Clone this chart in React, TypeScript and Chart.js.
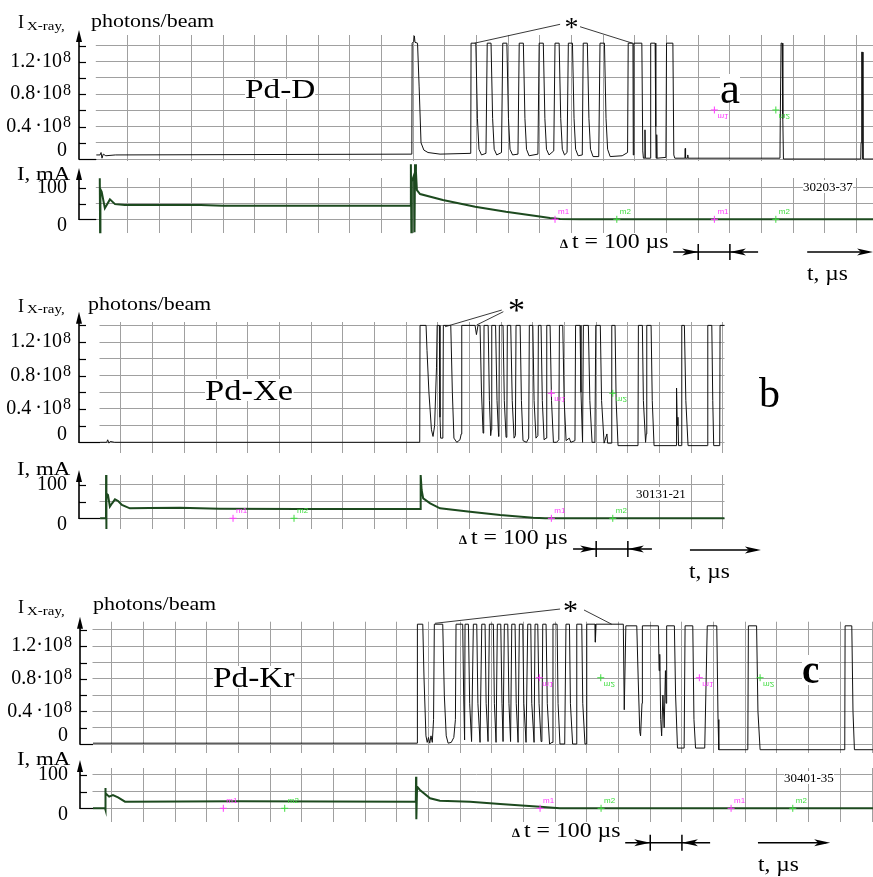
import React, { useEffect, useRef } from 'react';
import { Chart, registerables } from 'chart.js';

Chart.register(...registerables);

const SERIF = "'Liberation Serif', 'Times New Roman', Times, serif";
const SANS = "'Liberation Sans', Arial, sans-serif";
const PAGE_W = 873;
const PAGE_H = 877;
const GRID = '#a0a0a0';
const XRAY_COLOR = '#111111';
const CURRENT_COLOR = '#1d4a1f';
const M1_COLOR = '#ff3cff';
const M2_COLOR = '#3fdc3f';
const PX_PER_US = 0.3168;

// ---------- ticks ----------
const xrayTickValues = [0, 0.2, 0.4, 0.6, 0.8, 1.0, 1.2, 1.4]; // x10^8 photons/beam
const xrayTickLabels = ['0', '', '0.4\u2009·10', '', '0.8·10', '', '1.2·10', ''];
const xrayTickExponents = ['', '', '8', '', '8', '', '8', ''];
const currentTickValues = [0, 50, 100]; // mA
const currentTickLabels = ['0', '', '100'];
const timeGridStep = 100; // µs

// ---------- (a) Pd-D : time µs, X-ray x10^8 ----------
const pdD_xray = [
  [0, 0.05], [12, 0.05], [15, 0.08], [18, 0.01], [22, 0.06], [30, 0.04], [60, 0.05], [996, 0.06],
  [997, 1.43], [1002, 1.45], [1004, 1.52], [1006, 1.44], [1014, 1.43], [1019, 0.9], [1025, 0.2], [1034, 0.11], [1047, 0.08], [1085, 0.06], [1182, 0.07],
  [1183, 1.43], [1198, 1.43], [1203, 0.5], [1208, 0.12], [1216, 0.05], [1230, 0.07],
  [1234, 1.43], [1246, 1.43], [1251, 0.5], [1256, 0.12], [1264, 0.05], [1279, 0.08],
  [1283, 1.43], [1296, 1.43], [1301, 0.5], [1306, 0.12], [1314, 0.05], [1331, 0.06],
  [1335, 1.43], [1348, 1.43], [1353, 0.5], [1358, 0.12], [1366, 0.04], [1394, 0.06],
  [1398, 1.43], [1411, 1.43], [1416, 0.5], [1421, 0.12], [1429, 0.05], [1444, 0.1],
  [1448, 1.43], [1461, 1.43], [1466, 0.5], [1471, 0.12], [1478, 0.05], [1486, 0.08],
  [1490, 1.43], [1503, 1.43], [1508, 0.5], [1513, 0.12], [1521, 0.04], [1534, 0.05],
  [1537, 1.43], [1550, 1.43], [1555, 0.5], [1560, 0.12], [1568, 0.03], [1586, 0.03],
  [1590, 1.43], [1604, 1.43], [1609, 0.5], [1614, 0.12], [1622, 0.03], [1660, 0.04], [1677, 0.08],
  [1679, 1.43], [1694, 1.43], [1695, 0.05], [1697, 1.43], [1722, 1.43], [1725, 0.1], [1727, 0.01],
  [1731, 0.01], [1732, 0.36], [1733, 0.01], [1748, 0.01],
  [1750, 1.43], [1764, 1.43], [1766, 0.4], [1767, 0.01], [1769, 0.3], [1770, 0.01], [1798, 0.02],
  [1800, 1.43], [1820, 1.43], [1823, 0.05], [1826, 0.01], [1858, 0.01], [1859, 0.13], [1860, 0.01], [1866, 0.01], [1867, 0.05], [1868, 0.01], [2158, 0.01],
  [2159, 0.48], [2161, 0.48], [2161.5, 1.43], [2165, 1.43], [2167, 0.5], [2169, 0.0], [2413, 0.0],
  [2414, 0.2], [2416, 1.32], [2418, 1.32], [2420, 0.0], [2452, 0.0],
];
// (a) discharge current, mA
const pdD_current = [
  [11, 130], [12, -41], [13, 95], [17, 87], [27, 35], [43, 63], [59, 48], [90, 45], [330, 45], [400, 43], [990, 43],
  [992, 43], [993, 174], [994.5, -41], [996, 120], [1003, 140], [1004.5, -41], [1006, 174], [1009, 150], [1012, 92],
  [1022, 80], [1094, 61], [1196, 40], [1293, 24], [1394, 10], [1432, 4], [1464, 1], [1527, 0], [2452, 0],
];

// ---------- (b) Pd-Xe ----------
const pdXe_xray = [
  [34, 0.0], [55, 0.0], [58, 0.03], [62, -0.01], [66, 0.01], [80, 0.0], [1043, 0.0],
  [1044, 1.4], [1063, 1.4], [1066, 1.1], [1072, 0.6], [1080, 0.15], [1085, 0.07], [1090, 0.2], [1096, 0.9], [1098, 1.4], [1105, 1.4], [1107, 0.3], [1109, 0.05], [1116, 0.05],
  [1117.6, 1.4], [1141, 1.4], [1146, 0.6], [1151, 0.05], [1160, 0.0], [1170, 0.03], [1174, 0.1],
  [1175.7, 1.4], [1217.7, 1.4], [1222, 1.29], [1227, 1.4], [1233.4, 1.4], [1238, 0.6], [1243, 0.11], [1245, 0.2],
  [1246, 1.4], [1259, 1.4], [1263, 0.5], [1267, 0.08], [1269, 0.15],
  [1270.4, 1.4], [1282.4, 1.4], [1287, 0.5], [1292, 0.07], [1293, 0.12],
  [1294.4, 1.4], [1306, 1.4], [1310, 0.5], [1315.5, 0.06], [1318, 0.1],
  [1319.6, 1.4], [1330.3, 1.4], [1335, 0.5], [1340.8, 0.05], [1345, 0.08],
  [1347, 1.4], [1360, 1.4], [1364, 0.5], [1369, 0.02], [1380, 0.0], [1387, 0.05],
  [1389, 1.4], [1400, 1.4], [1404, 0.5], [1410, 0.05], [1416, 0.08],
  [1417.5, 1.4], [1426, 1.4], [1430, 0.5], [1435.5, 0.03], [1442, 0.05],
  [1444, 1.4], [1454.5, 1.4], [1459, 0.5], [1465, 0.0], [1475, 0.0], [1482, 0.03],
  [1484, 1.4], [1494.5, 1.4], [1499, 0.5], [1505, 0.02], [1515, 0.05], [1520, 0.0], [1533, 0.02],
  [1535, 1.4], [1549, 1.4], [1552, 0.6], [1557, 0.0],
  [1559.6, 1.4], [1575.3, 1.4], [1580, 0.5], [1587, 0.0], [1596, 0.0],
  [1598.7, 1.4], [1613, 1.4], [1617, 0.5], [1625, -0.01], [1634, 0.1], [1636, -0.01], [1648, -0.01],
  [1649.2, 1.4], [1659.6, 1.4], [1663, 0.5], [1669, -0.04], [1732, -0.04],
  [1733.2, 1.4], [1745.8, 1.4], [1749, 0.5], [1755.9, 0.0], [1758, 0.1],
  [1759.7, 1.4], [1773.3, 1.4], [1777, 0.5], [1782.7, -0.04], [1852, -0.04],
  [1853, 0.35], [1854.4, 0.65], [1856, 0.2], [1858, 0.3], [1860, -0.04], [1869, -0.04],
  [1870.2, 1.4], [1878.4, 1.4], [1883, 0.5], [1890, -0.04], [1951, -0.04],
  [1952.3, 1.4], [1965, 1.4], [1968, 0.5], [1971, -0.04], [1990, -0.04],
  [1991, 1.4], [2005, 1.4],
];
const pdXe_current = [
  [34, 0], [52.7, 0], [53, 130], [53.5, -32], [54.5, 75], [59, 70], [65, 35], [72, 45], [81, 57], [91, 52], [103, 40], [128, 30],
  [190, 31], [286, 32], [410, 29], [665, 28], [1045, 28], [1046, 130], [1049, 85], [1054, 60], [1076, 45], [1107, 30],
  [1202, 20], [1297, 10], [1401, 2], [1439, 0], [2005, 0],
];

// ---------- (c) Pd-Kr ----------
const pdKr_xray = [
  [41, 0.01], [1064, 0.01],
  [1065, 1.47], [1082, 1.47], [1086, 0.8], [1092, 0.1], [1096, 0.02], [1100, 0.08], [1104, 0.01], [1108, 0.1], [1112, 0.02], [1116, 0.3],
  [1118.5, 1.47], [1145, 1.47], [1150, 0.6], [1156, 0.1], [1162, 0.01], [1172, 0.02], [1180, 0.08], [1185, 0.3],
  [1187, 1.47], [1208, 1.47], [1211, 0.6], [1214, 0.05],
  [1215.4, 1.47], [1226, 1.47], [1230, 0.5], [1236, 0.03],
  [1241.7, 1.47], [1252.4, 1.47], [1256, 0.5], [1262.8, 0.02],
  [1268.2, 1.47], [1278.6, 1.47], [1282, 0.5], [1288, 0.03],
  [1292.2, 1.47], [1304.8, 1.47], [1308, 0.5], [1313.3, 0.02],
  [1317.4, 1.47], [1328.2, 1.47], [1332, 0.5], [1335.4, 0.03],
  [1339.5, 1.47], [1350.3, 1.47], [1354, 0.5], [1359.1, 0.03],
  [1362.9, 1.47], [1373.3, 1.47], [1377, 0.5], [1382.8, 0.02],
  [1386.9, 1.47], [1397.6, 1.47], [1401, 0.5], [1408, 0.02],
  [1413.4, 1.47], [1422.9, 1.47], [1426, 0.5], [1433.3, 0.02],
  [1436.4, 1.47], [1445, 1.47], [1449, 0.5], [1455.4, 0.03], [1458, 0.05],
  [1460.7, 1.47], [1471.2, 1.47], [1475, 0.5], [1482.2, 0.0], [1490, 0.02],
  [1493, 1.47], [1506, 1.47], [1509, 0.5], [1515, 0.0], [1530, 0.0],
  [1534, 1.47], [1545, 1.47], [1548, 0.5], [1555, 0.0], [1566, 0.0],
  [1568.1, 1.47], [1583.9, 1.47], [1587, 0.5], [1594, 0.0], [1598, 0.0],
  [1599.6, 1.47], [1625.9, 1.47], [1626.8, 1.25], [1629, 1.47], [1715, 1.47], [1718, 0.42], [1723, 1.45], [1757.5, 1.45], [1762, 0.8], [1767, 0.15], [1769.5, 0.1], [1774, 0.5],
  [1775.2, 1.45], [1825.7, 1.45], [1828, 0.9], [1830, 1.1], [1833, 0.3], [1836, 0.1], [1840, 0.6], [1844, 0.2], [1848, 0.9], [1850, 0.5], [1851.5, 1.0],
  [1852.2, 1.45], [1876.2, 1.45], [1880, 0.6], [1886, -0.05], [1907, -0.05],
  [1910, 1.45], [1934.3, 1.45], [1938, 0.3], [1943, -0.05], [1972, -0.05],
  [1980, 1.45], [2010, 1.45], [2014, 0.3], [2016.4, -0.07], [2108, -0.07],
  [2109.8, 1.45], [2135.7, 1.45], [2140, 0.4], [2146.8, -0.07], [2414, -0.07],
  [2415.1, 1.45], [2436.2, 1.45], [2440, 0.4], [2444.5, -0.07], [2503, -0.07],
];
const pdKr_current = [
  [41, 0], [79, 0], [79.5, 61], [80, -5], [82, 45], [92, 35], [104, 40], [120, 33], [142, 20], [500, 21], [1060, 20],
  [1060.8, 95], [1061.7, -33], [1064, 65], [1073, 55], [1105, 30], [1136, 23], [1231, 20], [1326, 13], [1452, 5], [1515, 0], [2503, 0],
];

// ---------- cursor markers (time µs, value) ----------
const pdD_xrayM1 = [[1951, 0.605]];
const pdD_xrayM2 = [[2145, 0.605]];
const pdD_curM1 = [[1448, 0], [1951, 0]];
const pdD_curM2 = [[1643, 0], [2145, 0]];
const pdXe_xrayM1 = [[1458.5, 0.587]];
const pdXe_xrayM2 = [[1652.4, 0.587]];
const pdXe_curM1 = [[453.7, 0], [1458.5, 0]];
const pdXe_curM2 = [[646.2, 0], [1652.4, 0]];
const pdKr_xrayM1 = [[1450, 0.813], [1955, 0.813]];
const pdKr_xrayM2 = [[1643.8, 0.813], [2146.8, 0.813]];
const pdKr_curM1 = [[452.4, 0], [1452.2, 0], [2055.2, 0]];
const pdKr_curM2 = [[646.2, 0], [1644.8, 0], [2249.9, 0]];

// ---------- chart layout ----------
type Spec = any;
const specs: Spec[] = [
  {
    key: 'aX', kind: 'xray', data: pdD_xray, canvasTop: 15, canvasBottom: 166, areaTop: 35, areaBottom: 160.5,
    zeroPx: 159, pxPerUnit: 81, axisX: 79, gridStart: 96.3, x0: 96.3, right: 873, tipY: 30,
    m1: pdD_xrayM1, m2: pdD_xrayM2,
    star: [[1464, 1.663, 1194, 1.43], [1527, 1.633, 1692, 1.43]],
  },
  {
    key: 'aI', kind: 'current', data: pdD_current, canvasTop: 160, canvasBottom: 265, areaTop: 178, areaBottom: 232.5,
    zeroPx: 219.3, pxPerUnit: 0.316, axisX: 79, gridStart: 96.3, x0: 96.3, right: 873, tipY: 168,
    m1: pdD_curM1, m2: pdD_curM2,
    dt: { a: 1900, b: 2000, from: 1821, to: 2089, y: 252, longFrom: 2244, longTo: 2452, longY: 252 },
  },
  {
    key: 'bX', kind: 'xray', data: pdXe_xray, canvasTop: 295, canvasBottom: 458, areaTop: 322, areaBottom: 453,
    zeroPx: 442.3, pxPerUnit: 83.5, axisX: 79, gridStart: 100, x0: 89.3, right: 724.5, tipY: 311.7,
    m1: pdXe_xrayM1, m2: pdXe_xrayM2,
    star: [[1302, 1.584, 1123, 1.384], [1307, 1.564, 1223, 1.405]],
  },
  {
    key: 'bI', kind: 'current', data: pdXe_current, canvasTop: 460, canvasBottom: 560, areaTop: 475, areaBottom: 529,
    zeroPx: 518.3, pxPerUnit: 0.333, axisX: 79, gridStart: 100, x0: 89.3, right: 724.5, tipY: 470,
    m1: pdXe_curM1, m2: pdXe_curM2,
    dt: { a: 1600, b: 1700, from: 1527, to: 1776, y: 549, longFrom: 1896, longTo: 2120, longY: 550 },
  },
  {
    key: 'cX', kind: 'xray', data: pdKr_xray, canvasTop: 590, canvasBottom: 758, areaTop: 621.7, areaBottom: 753.3,
    zeroPx: 744, pxPerUnit: 81.5, axisX: 80, gridStart: 93, x0: 80, right: 873, tipY: 616.7,
    m1: pdKr_xrayM1, m2: pdKr_xrayM2,
    star: [[1515.4, 1.656, 1120.7, 1.481], [1591, 1.644, 1678.6, 1.469]],
  },
  {
    key: 'cI', kind: 'current', data: pdKr_current, canvasTop: 750, canvasBottom: 855, areaTop: 768, areaBottom: 821.7,
    zeroPx: 808.3, pxPerUnit: 0.333, axisX: 80, gridStart: 93, x0: 80, right: 873, tipY: 760,
    m1: pdKr_curM1, m2: pdKr_curM2,
    dt: { a: 1800, b: 1900, from: 1721, to: 1989, y: 842.7, longFrom: 2140, longTo: 2368, longY: 842.7 },
  },
];

function makeDecor(s: Spec) {
  const off = s.canvasTop;
  const isX = s.kind === 'xray';
  return {
    id: 'decor_' + s.key,
    beforeDatasetsDraw(chart: any) {
      const { ctx, chartArea } = chart;
      ctx.save();
      ctx.fillStyle = '#fff';
      ctx.fillRect(s.axisX + 1, chartArea.top - 1, s.gridStart - s.axisX - 1.5, chartArea.bottom - chartArea.top + 2);
      ctx.restore();
    },
    afterDatasetsDraw(chart: any) {
      const { ctx } = chart;
      const xs = chart.scales.x;
      const ys = chart.scales.y;
      ctx.save();
      // y axis with arrow
      const y0 = ys.getPixelForValue(0);
      const tip = s.tipY - off;
      ctx.strokeStyle = '#000';
      ctx.fillStyle = '#000';
      ctx.lineWidth = 1.6;
      ctx.beginPath();
      ctx.moveTo(s.axisX, y0 + 0.8);
      ctx.lineTo(s.axisX, tip + 8);
      ctx.stroke();
      ctx.beginPath();
      ctx.moveTo(s.axisX, tip);
      ctx.lineTo(s.axisX - 3, tip + 12);
      ctx.lineTo(s.axisX + 3, tip + 12);
      ctx.closePath();
      ctx.fill();
      ctx.lineWidth = 1.2;
      const tv = isX ? xrayTickValues : currentTickValues;
      tv.forEach((v, i) => {
        const yRaw = ys.getPixelForValue(v);
        const y = Math.round(yRaw) + 0.5;
        ctx.beginPath();
        ctx.moveTo(s.axisX, y);
        ctx.lineTo(v === 0 ? s.gridStart : s.axisX + 7, y);
        ctx.stroke();
        // superscript exponent of the tick label
        if (isX && xrayTickExponents[i]) {
          ctx.font = `16px ${SERIF}`;
          ctx.textAlign = 'left';
          ctx.textBaseline = 'alphabetic';
          ctx.fillText(xrayTickExponents[i], s.axisX - 16, yRaw + 0.5);
        }
      });
      // leader lines from the asterisk
      if (s.star) {
        ctx.lineWidth = 0.9;
        ctx.strokeStyle = '#222';
        for (const [t1, v1, t2, v2] of s.star) {
          ctx.beginPath();
          ctx.moveTo(xs.getPixelForValue(t1), ys.getPixelForValue(v1));
          ctx.lineTo(xs.getPixelForValue(t2), ys.getPixelForValue(v2));
          ctx.stroke();
        }
      }
      // cursor markers
      const drawMarkers = (pts: number[][], color: string, label: string) => {
        for (const [t, v] of pts) {
          const x = xs.getPixelForValue(t);
          const y = ys.getPixelForValue(v);
          ctx.strokeStyle = color;
          ctx.fillStyle = color;
          ctx.lineWidth = 1;
          ctx.beginPath();
          ctx.moveTo(x - 3.5, y);
          ctx.lineTo(x + 3.5, y);
          ctx.moveTo(x, y - 3.5);
          ctx.lineTo(x, y + 3.5);
          ctx.stroke();
          ctx.font = `8px ${SANS}`;
          ctx.textAlign = 'left';
          ctx.textBaseline = 'alphabetic';
          if (isX) {
            ctx.save();
            ctx.translate(x + 3, y + 4);
            ctx.scale(1, -1);
            ctx.fillText(label, 0, 0);
            ctx.restore();
          } else {
            ctx.fillText(label, x + 3, y - 5);
          }
        }
      };
      drawMarkers(s.m1, M1_COLOR, 'm1');
      drawMarkers(s.m2, M2_COLOR, 'm2');
      // Δt marker and time arrow
      if (s.dt) {
        const d = s.dt;
        const y = d.y - off;
        const xa = xs.getPixelForValue(d.a);
        const xb = xs.getPixelForValue(d.b);
        const xf = xs.getPixelForValue(d.from);
        const xt = xs.getPixelForValue(d.to);
        ctx.strokeStyle = '#000';
        ctx.fillStyle = '#000';
        ctx.lineWidth = 1.5;
        ctx.beginPath();
        ctx.moveTo(xf, y);
        ctx.lineTo(xt, y);
        ctx.moveTo(xa, y - 8);
        ctx.lineTo(xa, y + 8);
        ctx.moveTo(xb, y - 8);
        ctx.lineTo(xb, y + 8);
        ctx.stroke();
        const head = (tx: number, ty: number, dir: number) => {
          ctx.beginPath();
          ctx.moveTo(tx, ty);
          ctx.lineTo(tx - dir * 16, ty - 3.5);
          ctx.lineTo(tx - dir * 12, ty);
          ctx.lineTo(tx - dir * 16, ty + 3.5);
          ctx.closePath();
          ctx.fill();
        };
        head(xa, y, 1);
        head(xb, y, -1);
        const ly = d.longY - off;
        const lf = xs.getPixelForValue(d.longFrom);
        const lt = xs.getPixelForValue(d.longTo);
        ctx.beginPath();
        ctx.moveTo(lf, ly);
        ctx.lineTo(lt - 4, ly);
        ctx.stroke();
        head(lt, ly, 1);
      }
      ctx.restore();
    },
  };
}

function buildConfig(s: Spec) {
  const xMin = (s.axisX - s.x0) / PX_PER_US;
  const xMax = (s.right - s.x0) / PX_PER_US;
  const yMin = (s.zeroPx - s.areaBottom) / s.pxPerUnit;
  const yMax = (s.zeroPx - s.areaTop) / s.pxPerUnit;
  const isX = s.kind === 'xray';
  const tickValues = isX ? xrayTickValues : currentTickValues;
  const tickLabels = isX ? xrayTickLabels : currentTickLabels;
  return {
    type: 'line',
    data: {
      datasets: [
        {
          data: s.data,
          borderColor: isX ? XRAY_COLOR : CURRENT_COLOR,
          borderWidth: isX ? 1 : 2,
          pointRadius: 0,
          pointHoverRadius: 0,
          tension: 0,
          fill: false,
          clip: false,
        },
      ],
    },
    options: {
      animation: false,
      responsive: false,
      maintainAspectRatio: false,
      devicePixelRatio: 1,
      events: [],
      layout: {
        padding: {
          top: s.areaTop - s.canvasTop,
          bottom: s.canvasBottom - s.areaBottom,
          left: 0,
          right: PAGE_W - s.right,
        },
      },
      plugins: { legend: { display: false }, tooltip: { enabled: false }, title: { display: false } },
      scales: {
        x: {
          type: 'linear',
          min: xMin,
          max: xMax,
          ticks: { display: false },
          grid: { color: GRID, lineWidth: 1, drawTicks: false },
          border: { display: false },
          afterBuildTicks: (sc: any) => {
            const t: any[] = [];
            for (let v = timeGridStep; v < xMax; v += timeGridStep) t.push({ value: v });
            sc.ticks = t;
          },
          afterFit: (sc: any) => {
            sc.height = 0;
            sc.paddingLeft = 0;
            sc.paddingRight = 0;
          },
        },
        y: {
          type: 'linear',
          min: yMin,
          max: yMax,
          grid: { color: GRID, lineWidth: 1, drawTicks: false },
          border: { display: false },
          ticks: {
            autoSkip: false,
            padding: 7,
            color: '#000',
            font: { family: SERIF, size: 20, lineHeight: isX ? 0.8 : 0.6 },
            callback: (v: number, i: number) => {
              const l = tickLabels[i] || '';
              if (v === 0) return isX ? [l + ' ', ''] : ['', l + ' '];
              if (!l) return '';
              return isX ? l + '\u2002' : l + ' ';
            },
          },
          afterBuildTicks: (sc: any) => {
            sc.ticks = tickValues.map((v) => ({ value: v }));
          },
          afterFit: (sc: any) => {
            sc.width = s.axisX;
            sc.paddingTop = 0;
            sc.paddingBottom = 0;
          },
        },
      },
    },
    plugins: [makeDecor(s)],
  };
}

// ---------- text annotations ----------
type Lbl = { t: string; x: number; b: number; s: number; lh?: number; sx?: number; bold?: boolean; bg?: boolean };
const texts: Lbl[] = [
  // (a)
  { t: 'I', x: 18, b: 28.3, s: 18 },
  { t: 'X-ray,', x: 26.5, b: 29.5, s: 13, sx: 1.15 },
  { t: 'photons/beam', x: 90.7, b: 27.5, s: 18, sx: 1.22 },
  { t: 'Pd-D', x: 245, b: 98, s: 28, lh: 20, sx: 1.19, bg: true },
  { t: 'a', x: 720, b: 103, s: 45, lh: 28, bg: true },
  { t: 'I, mA', x: 16.7, b: 180, s: 18, sx: 1.27 },
  { t: '30203-37', x: 803, b: 191, s: 13, bg: true },
  { t: '*', x: 564.5, b: 36.9, s: 28 },
  { t: '∆', x: 560, b: 248.3, s: 13, bold: true },
  { t: 't = 100 µs', x: 571.7, b: 248, s: 20, sx: 1.19 },
  { t: 't, µs', x: 807, b: 280, s: 20, sx: 1.17 },
  // (b)
  { t: 'I', x: 18, b: 311.7, s: 18 },
  { t: 'X-ray,', x: 26.5, b: 312.9, s: 13, sx: 1.15 },
  { t: 'photons/beam', x: 88, b: 310.5, s: 18, sx: 1.22 },
  { t: 'Pd-Xe', x: 205, b: 400, s: 30, lh: 22, sx: 1.15, bg: true },
  { t: 'b', x: 759, b: 407, s: 42 },
  { t: 'I, mA', x: 16.7, b: 475, s: 18, sx: 1.27 },
  { t: '30131-21', x: 636, b: 498, s: 13, bg: true },
  { t: '*', x: 508, b: 321.8, s: 34 },
  { t: '∆', x: 459, b: 544.3, s: 13, bold: true },
  { t: 't = 100 µs', x: 470.7, b: 544, s: 20, sx: 1.19 },
  { t: 't, µs', x: 689, b: 578, s: 20, sx: 1.17 },
  // (c)
  { t: 'I', x: 18, b: 613.3, s: 18 },
  { t: 'X-ray,', x: 26.5, b: 614.5, s: 13, sx: 1.15 },
  { t: 'photons/beam', x: 93, b: 610.5, s: 18, sx: 1.22 },
  { t: 'Pd-Kr', x: 213, b: 687, s: 29, lh: 22, sx: 1.15, bg: true },
  { t: 'c', x: 802, b: 683, s: 39, lh: 30, bold: true, bg: true },
  { t: 'I, mA', x: 16.7, b: 765, s: 18, sx: 1.27 },
  { t: '30401-35', x: 784, b: 782, s: 13, bg: true },
  { t: '*', x: 563, b: 619.9, s: 30 },
  { t: '∆', x: 512, b: 837.3, s: 13, bold: true },
  { t: 't = 100 µs', x: 523.7, b: 837, s: 20, sx: 1.19 },
  { t: 't, µs', x: 758, b: 871, s: 20, sx: 1.17 },
];

function labelStyle(l: Lbl): React.CSSProperties {
  const L = l.lh ?? l.s;
  const top = l.b - (L / 2 + 0.3375 * l.s);
  return {
    position: 'absolute',
    left: l.x,
    top,
    fontFamily: SERIF,
    fontSize: l.s,
    lineHeight: L + 'px',
    whiteSpace: 'pre',
    fontWeight: l.bold ? 700 : 400,
    background: l.bg ? '#fff' : 'transparent',
    color: '#000',
    transform: l.sx ? `scaleX(${l.sx})` : undefined,
    transformOrigin: 'left top',
  };
}

export default function App() {
  const refs = useRef<(HTMLCanvasElement | null)[]>([]);
  useEffect(() => {
    const charts = specs.map((s, i) => new Chart(refs.current[i] as HTMLCanvasElement, buildConfig(s) as any));
    return () => charts.forEach((c) => c.destroy());
  }, []);
  return (
    <div style={{ position: 'absolute', left: 0, top: 0, width: PAGE_W, height: PAGE_H, background: '#fff', overflow: 'hidden' }}>
      {specs.map((s, i) => (
        <canvas
          key={s.key}
          ref={(el) => {
            refs.current[i] = el;
          }}
          width={PAGE_W}
          height={s.canvasBottom - s.canvasTop}
          style={{ position: 'absolute', left: 0, top: s.canvasTop, width: PAGE_W, height: s.canvasBottom - s.canvasTop }}
        />
      ))}
      {texts.map((l, i) => (
        <span key={i} style={labelStyle(l)}>
          {l.t}
        </span>
      ))}
    </div>
  );
}
